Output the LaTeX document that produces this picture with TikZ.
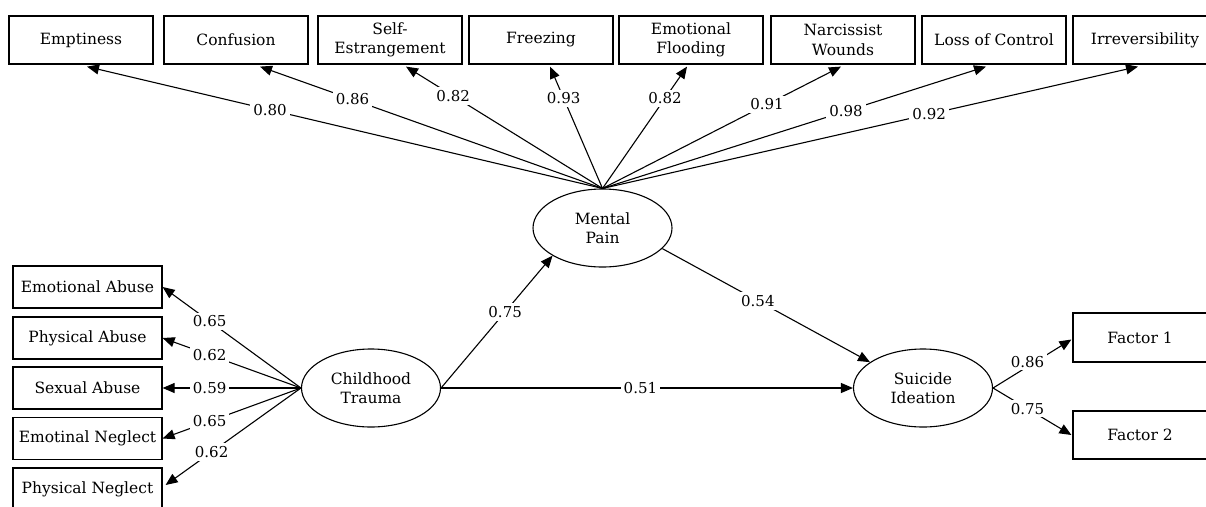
\documentclass[tikz,border=0pt]{standalone}
\usepackage{fontspec}
\setmainfont{DejaVu Serif}
\usetikzlibrary{shapes.geometric,arrows.meta,calc}
\begin{document}
\begin{tikzpicture}[x=1pt,y=-1pt,
  box/.style={draw,line width=1.2pt,minimum width=144pt,minimum height=48pt,inner sep=0pt,align=center,font=\fontsize{15.5}{19.5}\selectfont},
  lbox/.style={draw,line width=1.2pt,minimum width=149pt,minimum height=42pt,inner sep=0pt,align=center,font=\fontsize{15.5}{19.5}\selectfont},
  fbox/.style={draw,line width=1.2pt,minimum width=134pt,minimum height=48pt,inner sep=0pt,align=center,font=\fontsize{15.5}{19.5}\selectfont},
  lat/.style={draw,ellipse,line width=1.1pt,minimum width=139pt,minimum height=78pt,inner sep=0pt,align=center,font=\fontsize{15.5}{19.5}\selectfont},
  pth/.style={line width=1.1pt,-{Triangle[length=12pt,width=10pt]}},
  coef/.style={fill=white,inner sep=3pt,font=\fontsize{15}{18}\selectfont},
]
\useasboundingbox (0,0) rectangle (1206,506);
\clip (0,0) rectangle (1206,506);
% top indicator boxes
\node[box] (emp) at (81,40) {Emptiness};
\node[box] (con) at (236,40) {Confusion};
\node[box] (sel) at (390,40) {Self-\\Estrangement};
\node[box] (fre) at (541,40) {Freezing};
\node[box] (flo) at (691,40) {Emotional\\Flooding};
\node[box] (nar) at (843,40) {Narcissist\\Wounds};
\node[box] (los) at (994,40) {Loss of Control};
\node[box] (irr) at (1145,40) {Irreversibility};
% left indicator boxes
\node[lbox] (ea) at (87.5,287) {Emotional Abuse};
\node[lbox] (pa) at (87.5,338) {Physical Abuse};
\node[lbox] (sa) at (87.5,388) {Sexual Abuse};
\node[lbox] (en) at (87.5,438.5) {Emotinal Neglect};
\node[lbox] (pn) at (87.5,489) {Physical Neglect};
% right indicator boxes
\node[fbox,minimum height=49pt] (f1) at (1140,337.5) {Factor 1};
\node[fbox] (f2) at (1140,435) {Factor 2};
% latent variables
\node[lat] (mp) at (602.5,228) {Mental\\Pain};
\node[lat] (ct) at (371,388) {Childhood\\Trauma};
\node[lat] (si) at (923,388) {Suicide\\Ideation};
% mental pain loadings
\draw[pth] (mp.north) -- node[coef,pos=.645]{0.80} ($(emp.south)+(6,2)$);
\draw[pth] (mp.north) -- node[coef,pos=.73]{0.86} ($(con.south)+(24,2)$);
\draw[pth] (mp.north) -- node[coef,pos=.76]{0.82} ($(sel.south)+(16,2)$);
\draw[pth] (mp.north) -- node[coef,pos=.74]{0.93} ($(fre.south)+(9,2)$);
\draw[pth] (mp.north) -- node[coef,pos=.74]{0.82} ($(flo.south)+(-4,2)$);
\draw[pth] (mp.north) -- node[coef,pos=.69]{0.91} ($(nar.south)+(-2,2)$);
\draw[pth] (mp.north) -- node[coef,pos=.635]{0.98} ($(los.south)+(-8,2)$);
\draw[pth] (mp.north) -- node[coef,pos=.61]{0.92} ($(irr.south)+(-7,2)$);
% childhood trauma loadings
\draw[pth] (ct.west) -- node[coef,pos=.66]{0.65} (ea.east);
\draw[pth] (ct.west) -- node[coef,pos=.66]{0.62} (pa.east);
\draw[pth] (ct.west) -- node[coef,pos=.66]{0.59} (sa.east);
\draw[pth] (ct.west) -- node[coef,pos=.66]{0.65} (en.east);
\draw[pth] (ct.west) -- node[coef,pos=.66]{0.62} ($(pn.east)+(3,-4)$);
% structural paths
\draw[pth] (ct.east) -- node[coef,pos=.575]{0.75} (mp.209);
\draw[pth] (mp.-19) -- node[coef,pos=.46]{0.54} (si.154);
\draw[pth] (ct.east) -- node[coef,pos=.484]{0.51} (si.west);
% suicide ideation loadings
\draw[pth] (si.east) -- node[coef,pos=.44,yshift=5pt]{0.86} ($(f1.west)+(-1,2)$);
\draw[pth] (si.east) -- node[coef,pos=.44]{0.75} ($(f2.west)+(-1,0)$);
\end{tikzpicture}
\end{document}
